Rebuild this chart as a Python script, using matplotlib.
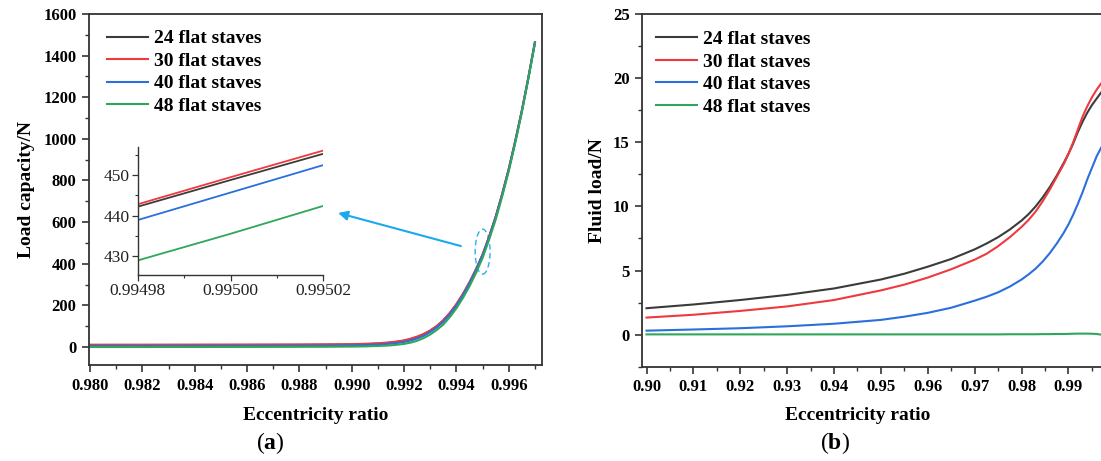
import matplotlib
matplotlib.use("Agg")
import matplotlib.pyplot as plt
from matplotlib.patches import Ellipse
from matplotlib.ticker import MultipleLocator, FixedLocator, FormatStrFormatter

plt.rcParams['font.family'] = ['Liberation Serif', 'DejaVu Serif']
plt.rcParams['mathtext.fontset'] = 'custom'
plt.rcParams['mathtext.rm'] = 'Liberation Serif'
plt.rcParams['mathtext.bf'] = 'Liberation Serif:bold'

# ---------------- data ----------------
labels = ["24 flat staves", "30 flat staves", "40 flat staves", "48 flat staves"]
colors = ["#3b3b3b", "#ee3a3f", "#2a6fdc", "#2fa65b"]

# (a) load capacity vs eccentricity ratio
ecc_a = [0.980, 0.982, 0.984, 0.986, 0.988, 0.989, 0.990, 0.9905, 0.991, 0.99125, 0.9915,
         0.99175, 0.992, 0.99225, 0.9925, 0.99275, 0.993, 0.99325, 0.9935, 0.99375, 0.994,
         0.99425, 0.9945, 0.99475, 0.995, 0.99525, 0.9955, 0.99575, 0.996, 0.99625, 0.9965,
         0.99675, 0.997]
load_24 = [9.5, 9.6, 9.8, 10, 10.5, 11, 12, 13.5, 16, 18.2, 21, 25, 30, 38, 48, 61, 78, 100,
           128, 163, 205, 254, 310, 373, 443, 530, 625, 735, 855, 990, 1135, 1295, 1464]
load_30 = [11, 11.1, 11.3, 11.6, 12, 12.6, 13.5, 15.5, 18, 20.3, 23, 27, 32, 40, 50, 63, 80, 101,
           129, 164, 206, 255, 311, 374, 444, 531, 626, 736, 856, 991, 1136, 1296, 1465]
load_40 = [5, 5.1, 5.3, 5.6, 6, 6.6, 7.7, 9, 11.5, 13.5, 16, 19.5, 24, 31, 41, 54, 72, 94,
           121, 157, 199, 249, 305, 369, 440, 527, 622, 732, 852, 988, 1133, 1293, 1463]
load_48 = [0, 0.1, 0.2, 0.4, 0.8, 1.2, 2, 3, 5, 6.3, 8, 11, 15, 21, 30, 43, 60, 82,
           108, 144, 186, 236, 292, 356, 428, 516, 612, 724, 845, 982, 1128, 1290, 1460]

# inset (zoom around 0.995)
ecc_in = [0.99498, 0.99500, 0.99502]
in_24 = [442.2, 448.8, 455.3]
in_30 = [442.8, 449.5, 456.1]
in_40 = [438.9, 445.7, 452.5]
in_48 = [428.9, 435.5, 442.4]

# (b) fluid load vs eccentricity ratio
ecc_b = [0.90, 0.91, 0.92, 0.93, 0.94, 0.95, 0.955, 0.96, 0.965, 0.97, 0.9725, 0.975, 0.9775,
         0.98, 0.9815, 0.983, 0.9845, 0.986, 0.9875, 0.989, 0.990, 0.991, 0.992, 0.993, 0.994,
         0.995, 0.996, 0.997]
fl_24 = [2.06, 2.35, 2.7, 3.1, 3.6, 4.3, 4.75, 5.3, 5.9, 6.65, 7.1, 7.6, 8.2, 8.9, 9.4, 10.0,
         10.7, 11.5, 12.4, 13.4, 14.1, 14.9, 15.8, 16.6, 17.3, 17.9, 18.4, 18.9]
fl_30 = [1.33, 1.55, 1.85, 2.2, 2.7, 3.45, 3.9, 4.45, 5.1, 5.85, 6.3, 6.9, 7.6, 8.4, 8.95, 9.6,
         10.4, 11.3, 12.3, 13.3, 14.1, 15.0, 16.0, 17.0, 17.8, 18.5, 19.1, 19.6]
fl_40 = [0.31, 0.4, 0.5, 0.65, 0.85, 1.15, 1.4, 1.7, 2.1, 2.65, 2.95, 3.3, 3.75, 4.3, 4.7, 5.15,
         5.7, 6.35, 7.1, 7.95, 8.6, 9.35, 10.2, 11.1, 12.1, 13.0, 13.9, 14.6]
fl_48 = [0.02, 0.02, 0.02, 0.02, 0.02, 0.02, 0.02, 0.02, 0.02, 0.02, 0.02, 0.02, 0.03, 0.03,
         0.03, 0.03, 0.04, 0.04, 0.05, 0.05, 0.06, 0.07, 0.08, 0.08, 0.08, 0.07, 0.05, 0.0]

W, H = 1101, 461
fig = plt.figure(figsize=(W / 100, H / 100), dpi=100)

def frac(l, t, r, b):
    return [l / W, 1 - b / H, (r - l) / W, (b - t) / H]

spine_col = "#333333"
lw = 1.5

def style_axes(ax):
    for s in ax.spines.values():
        s.set_color(spine_col)
        s.set_linewidth(1.3)
    ax.tick_params(which='major', direction='out', length=5, width=1.2, colors=spine_col,
                   labelsize=12, pad=4)
    ax.tick_params(which='minor', direction='out', length=3, width=1.0, colors=spine_col)
    for lab in ax.get_xticklabels() + ax.get_yticklabels():
        lab.set_fontweight('bold')
        lab.set_color('black')

legend_kw = dict(loc='upper left', frameon=False, prop={'weight': 'bold', 'size': 14},
                 handlelength=2.1, handletextpad=0.3, labelspacing=0.25,
                 borderaxespad=0, borderpad=0)

# ---------- panel (a) ----------
axa = fig.add_axes(frac(89, 14, 542, 365))
for ys, c, lab in zip([load_24, load_30, load_40, load_48], colors, labels):
    axa.plot(ecc_a, ys, color=c, lw=lw, label=lab)
axa.set_xlim(0.97996, 0.99727)
axa.set_ylim(-86.5, 1600)
axa.xaxis.set_major_locator(MultipleLocator(0.002))
axa.xaxis.set_minor_locator(MultipleLocator(0.001))
axa.xaxis.set_major_formatter(FormatStrFormatter('%.3f'))
axa.yaxis.set_major_locator(MultipleLocator(200))
axa.yaxis.set_minor_locator(MultipleLocator(100))
style_axes(axa)
axa.set_ylabel("Load capacity/N", fontsize=14, fontweight='bold', labelpad=6)
axa.legend(bbox_to_anchor=(0.04, 0.955), **legend_kw)

# ellipse marker and arrow
axa.add_patch(Ellipse((0.99500, 458), 0.00057, 216, fill=False, ls=(0, (4, 2.5)),
                      lw=1.0, ec="#2ab0ea"))
axa.annotate("", xy=(0.98948, 644), xytext=(0.99417, 485),
             arrowprops=dict(arrowstyle="-|>", color="#1aa9ef", lw=1.5,
                             mutation_scale=14, shrinkA=0, shrinkB=0))

# inset
axi = fig.add_axes(frac(137.7, 147.3, 323.3, 275))
for ys, c in zip([in_24, in_30, in_40, in_48], colors):
    axi.plot(ecc_in, ys, color=c, lw=1.3)
axi.set_xlim(0.99498, 0.99502)
axi.set_ylim(425.3, 456.9)
axi.xaxis.set_major_locator(FixedLocator([0.99498, 0.99500, 0.99502]))
axi.xaxis.set_minor_locator(FixedLocator([0.99499, 0.99501]))
axi.xaxis.set_major_formatter(FormatStrFormatter('%.5f'))
axi.yaxis.set_major_locator(MultipleLocator(10))
axi.yaxis.set_minor_locator(MultipleLocator(5))
axi.spines['top'].set_visible(False)
axi.spines['right'].set_visible(False)
for s in ['left', 'bottom']:
    axi.spines[s].set_color(spine_col)
    axi.spines[s].set_linewidth(1.0)
axi.tick_params(which='major', direction='out', length=4, width=0.9, colors=spine_col,
                labelsize=12.5, labelcolor='#222222', pad=2)
axi.tick_params(which='minor', direction='out', length=2.5, width=0.8, colors=spine_col)
axi.patch.set_alpha(0)

# ---------- panel (b) ----------
axb = fig.add_axes(frac(642, 14, 1106, 366.7))
for ys, c, lab in zip([fl_24, fl_30, fl_40, fl_48], colors, labels):
    axb.plot(ecc_b, ys, color=c, lw=lw, label=lab)
axb.set_xlim(0.89904, 0.998)
axb.set_ylim(-2.5, 25)
axb.xaxis.set_major_locator(MultipleLocator(0.01))
axb.xaxis.set_minor_locator(MultipleLocator(0.005))
axb.xaxis.set_major_formatter(FormatStrFormatter('%.2f'))
axb.yaxis.set_major_locator(MultipleLocator(5))
axb.yaxis.set_minor_locator(MultipleLocator(2.5))
style_axes(axb)
axb.set_ylabel("Fluid load/N", fontsize=14, fontweight='bold', labelpad=5)
axb.legend(bbox_to_anchor=(0.03, 0.953), **legend_kw)

# x-axis titles and panel labels
fig.text(316 / W, 1 - 415 / H, "Eccentricity ratio", fontsize=14, fontweight='bold',
         ha='center', va='center')
fig.text(858 / W, 1 - 415 / H, "Eccentricity ratio", fontsize=14, fontweight='bold',
         ha='center', va='center')
fig.text(270 / W, 1 - 443 / H, r"($\mathbf{a}$)", fontsize=17, ha='center', va='center')
fig.text(835 / W, 1 - 443 / H, r"($\mathbf{b}$)", fontsize=17, ha='center', va='center')

fig.savefig("out.png", dpi=100)
